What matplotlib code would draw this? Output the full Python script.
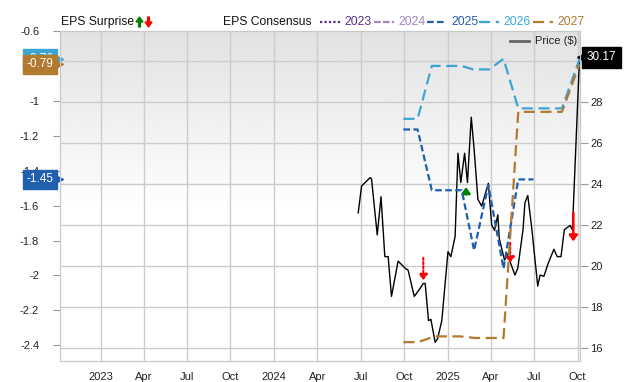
import numpy as np
import pandas as pd
import matplotlib
matplotlib.use("Agg")
import matplotlib.pyplot as plt
from matplotlib.lines import Line2D

plt.rcParams['font.family'] = ['Liberation Sans', 'DejaVu Sans']

# price ($), right axis
price_dates = ["2024-06-26", "2024-07-03", "2024-07-21", "2024-07-24", "2024-08-05", "2024-08-13",
               "2024-08-21", "2024-08-28", "2024-09-04", "2024-09-18", "2024-10-03", "2024-10-09",
               "2024-10-22", "2024-11-03", "2024-11-10", "2024-11-14", "2024-11-21", "2024-11-26",
               "2024-12-05", "2024-12-10", "2024-12-19", "2025-01-01", "2025-01-07", "2025-01-16",
               "2025-01-22", "2025-01-28", "2025-02-05", "2025-02-11", "2025-02-19", "2025-02-25",
               "2025-03-05", "2025-03-13", "2025-03-27", "2025-04-03", "2025-04-09", "2025-04-16",
               "2025-04-19", "2025-04-30", "2025-05-07", "2025-05-13", "2025-05-22", "2025-05-28",
               "2025-06-08", "2025-06-12", "2025-06-18", "2025-06-26", "2025-07-09", "2025-07-14",
               "2025-07-22", "2025-07-31", "2025-08-12", "2025-08-19", "2025-08-27", "2025-09-03",
               "2025-09-15", "2025-09-20", "2025-10-05"]
price = [22.59, 23.9, 24.31, 24.25, 21.52, 23.38,
         20.46, 20.46, 18.52, 20.24, 19.89, 19.8,
         18.52, 18.9, 19.15, 19.15, 17.34, 17.4,
         16.28, 16.45, 17.34, 20.7, 20.46, 21.44,
         25.5, 24.07, 25.5, 24.07, 27.26, 25.7,
         23.25, 22.92, 24.03, 22.0, 21.74, 22.5,
         21.34, 20.29, 20.6, 20.13, 19.56, 19.89,
         21.77, 23.08, 23.44, 21.93, 19.02, 19.56,
         19.5, 20.13, 20.82, 20.46, 20.46, 21.77,
         21.98, 21.77, 30.17]

# EPS consensus, left axis
eps_dates_a = ["2024-09-29", "2024-10-29", "2024-11-28", "2025-01-30", "2025-02-25",
               "2025-03-27", "2025-04-28", "2025-05-29", "2025-06-30"]
eps_2025 = [-1.164, -1.164, -1.512, -1.512, -1.856, -1.483, -1.961, -1.45, -1.45]

eps_dates_b = ["2024-09-29", "2024-10-29", "2024-11-28", "2025-01-30", "2025-02-23",
               "2025-03-29", "2025-04-28", "2025-05-29", "2025-08-29", "2025-10-05"]
eps_2026 = [-1.103, -1.103, -0.80, -0.80, -0.82, -0.82, -0.759, -1.043, -1.043, -0.76]

eps_dates_c = ["2024-09-29", "2024-10-29", "2024-12-05", "2025-01-26", "2025-02-27",
               "2025-04-28", "2025-05-29", "2025-08-29", "2025-10-05"]
eps_2027 = [-2.382, -2.382, -2.349, -2.349, -2.358, -2.358, -1.063, -1.063, -0.79]

years = ["2023", "2024", "2025", "2026", "2027"]
year_colors = ["#5a2d82", "#a585c2", "#1f5fae", "#3da5d6", "#b27a2e"]
year_styles = [(0, (1, 1)), (0, (3, 1)), (0, (3, 1.5)), (0, (5, 2.5)), (0, (5, 2.5))]

# EPS surprise arrows (date, start price, end price, color, dotted)
surprise_dates = ["2024-11-10", "2025-02-08", "2025-05-12", "2025-09-22"]
surprise_from = [20.4, 23.5, 21.13, 22.6]
surprise_to = [19.3, 23.85, 20.15, 21.2]
surprise_colors = ["red", "green", "red", "red"]
surprise_dotted = [True, False, True, False]

W, H = 640, 382
fig = plt.figure(figsize=(W / 100, H / 100), dpi=100)
ax = fig.add_axes([60 / W, 1 - 361 / H, 520 / W, 330 / H])
ax2 = ax.twinx()
ax.yaxis.tick_right()
ax2.yaxis.tick_left()
ax2.patch.set_visible(False)

# background gradient: grey at top, white lower down
t = np.linspace(0, 1, 256)
shade = 0.885 + 0.115 * np.clip((1 - t) / 0.55, 0, 1)
ax.imshow(shade.reshape(-1, 1), cmap='gray', vmin=0, vmax=1, extent=[0, 1, 0, 1],
          transform=ax.transAxes, aspect='auto', zorder=0, origin='lower')

ax.plot(pd.to_datetime(price_dates), price, color='black', lw=1, zorder=3)

ax2.plot(pd.to_datetime(eps_dates_a), eps_2025, color=year_colors[2], ls=year_styles[2], lw=1.6)
ax2.plot(pd.to_datetime(eps_dates_b), eps_2026, color=year_colors[3], ls=year_styles[3], lw=1.6)
ax2.plot(pd.to_datetime(eps_dates_c), eps_2027, color=year_colors[4], ls=year_styles[4], lw=1.6)

for d, a, b, c, dot in zip(surprise_dates, surprise_from, surprise_to, surprise_colors, surprise_dotted):
    d = pd.Timestamp(d)
    ax.annotate('', xy=(d, b), xytext=(d, a), zorder=5,
                arrowprops=dict(arrowstyle='-|>,head_width=0.25,head_length=0.35', color=c,
                                lw=1.5 if dot else 1.8, ls=(0, (1, 1)) if dot else '-',
                                shrinkA=0, shrinkB=0))

ax.set_xlim(pd.Timestamp("2022-10-07"), pd.Timestamp("2025-10-06"))
ax.set_ylim(15.37, 31.46)
ax2.set_ylim(-2.49, -0.6)

ticks = pd.date_range("2023-01-01", "2025-10-01", freq="QS")
ax.set_xticks(ticks)
ax.set_xticklabels([str(x.year) if x.month == 1 else x.strftime("%b") for x in ticks])
ax.set_yticks(range(16, 31, 2))
ax.set_yticklabels([str(v) for v in range(16, 31, 2)])
eps_ticks = [-0.6, -1.0, -1.2, -1.4, -1.6, -1.8, -2.0, -2.2, -2.4]
ax2.set_yticks(eps_ticks)
ax2.set_yticklabels(["%g" % v for v in eps_ticks])

ax.grid(True, color='#cccccc', lw=1)
ax.set_axisbelow(True)
for a in (ax, ax2):
    for s in a.spines.values():
        s.set_color('#c8c8c8')
ax.tick_params(axis='x', length=0, pad=8, labelsize=8, colors='#222222')
ax.tick_params(axis='y', length=6, pad=1.5, labelsize=8, color='#999999', labelcolor='#222222')
ax2.tick_params(axis='y', length=5, pad=10, labelsize=8, color='#999999', labelcolor='#222222')

# value labels on axes
tr_r = ax.get_yaxis_transform()
ax.plot([1.003], [price[-1]], marker='<', ms=7, color='black', transform=tr_r, clip_on=False)
ax.text(1.013, price[-1], "%.2f" % price[-1], transform=tr_r, color='white', fontsize=8.5,
        va='center', ha='left', bbox=dict(boxstyle='square,pad=0.4', fc='black', ec='black'))

tr_l = ax2.get_yaxis_transform()
for val, col in [(eps_2026[-1], year_colors[3]), (eps_2027[-1], year_colors[4]), (eps_2025[-1], year_colors[2])]:
    ax2.plot([-0.0045], [val], marker='>', ms=7, color=col, transform=tr_l, clip_on=False)
    ax2.text(-0.012, val, "%.2f" % val, transform=tr_l, color='white', fontsize=8.5,
             va='center', ha='right', bbox=dict(boxstyle='square,pad=0.3', fc=col, ec=col))

# price legend inside
ax.add_line(Line2D([510 / W, 529 / W], [1 - 41 / H] * 2, transform=fig.transFigure, color='#666666', lw=2))
fig.text(535 / W, 1 - 41 / H, "Price ($)", fontsize=8, va='center', color='#222222')

# top legend
ly = 1 - 22 / H
fig.text(61 / W, ly, "EPS Surprise", fontsize=8.7, va='center', color='#111111')
fig.patches.append(matplotlib.patches.FancyArrow(139.5 / W, 1 - 27 / H, 0, 10 / H, width=1.8 / W,
                   head_width=7 / W, head_length=5 / H, color='green', transform=fig.transFigure,
                   length_includes_head=True))
fig.patches.append(matplotlib.patches.FancyArrow(148.5 / W, 1 - 17 / H, 0, -10 / H, width=1.8 / W,
                   head_width=7 / W, head_length=5 / H, color='red', transform=fig.transFigure,
                   length_includes_head=True))
fig.text(223 / W, ly, "EPS Consensus", fontsize=8.7, va='center', color='#111111')
line_x = [320, 374, 427, 479, 533]
for x0, yr, c, st in zip(line_x, years, year_colors, year_styles):
    fig.lines.append(Line2D([x0 / W, (x0 + 20) / W], [ly, ly], transform=fig.transFigure,
                            color=c, ls=st, lw=1.6))
    fig.text((x0 + 24) / W, ly, yr, fontsize=8.7, va='center', color=c)

fig.savefig("out.png", dpi=100)
